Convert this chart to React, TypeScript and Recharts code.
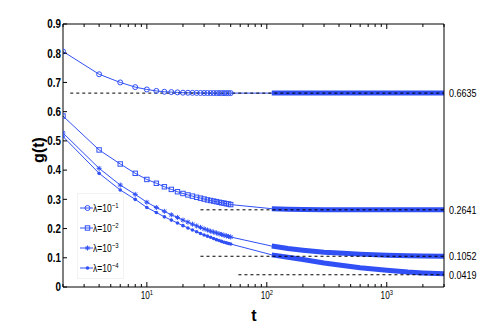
import { LineChart, Line, XAxis, YAxis, ReferenceLine, Legend } from 'recharts';

const FONT = "'Liberation Sans', Arial, sans-serif";
const BLUE = '#3050f5';

// sampled times: t = 2..50 (markers), then the dense tail from ~110 to 3000
const sparseT = [2, 4, 6, 8, 10, 12, 14, 16, 18, 20, 22, 24, 26, 28, 30, 32, 34, 36, 38, 40, 42, 44, 46, 48, 50];
const tailT = [110, 150, 200, 300, 400, 600, 1000, 1500, 2000, 3000];

// lambda = 1e-1
const lam1 = [0.806, 0.728, 0.7, 0.684, 0.676, 0.671, 0.668, 0.667, 0.666, 0.665, 0.6647, 0.6644, 0.6642, 0.664, 0.6639, 0.6638, 0.6637, 0.6637, 0.6636, 0.6636, 0.6636, 0.6635, 0.6635, 0.6635, 0.6635];
const lam1Tail = [0.6635, 0.6635, 0.6635, 0.6635, 0.6635, 0.6635, 0.6635, 0.6635, 0.6635, 0.6635];
// lambda = 1e-2
const lam2 = [0.585, 0.469, 0.421, 0.389, 0.368, 0.355, 0.343, 0.334, 0.326, 0.32, 0.315, 0.311, 0.307, 0.304, 0.301, 0.298, 0.296, 0.294, 0.292, 0.29, 0.288, 0.287, 0.285, 0.284, 0.282];
const lam2Tail = [0.268, 0.266, 0.265, 0.2645, 0.2643, 0.2642, 0.2641, 0.2641, 0.2641, 0.2641];
// lambda = 1e-3
const lam3 = [0.527, 0.406, 0.349, 0.317, 0.29, 0.272, 0.259, 0.247, 0.238, 0.229, 0.222, 0.215, 0.209, 0.204, 0.199, 0.195, 0.191, 0.188, 0.185, 0.182, 0.18, 0.177, 0.175, 0.173, 0.171];
const lam3Tail = [0.14, 0.132, 0.126, 0.119, 0.116, 0.1125, 0.109, 0.107, 0.106, 0.1052];
// lambda = 1e-4
const lam4 = [0.515, 0.389, 0.332, 0.3, 0.272, 0.255, 0.24, 0.229, 0.219, 0.21, 0.202, 0.195, 0.189, 0.183, 0.178, 0.174, 0.17, 0.166, 0.162, 0.159, 0.156, 0.153, 0.151, 0.149, 0.147];
const lam4Tail = [0.11, 0.102, 0.094, 0.082, 0.075, 0.066, 0.057, 0.051, 0.048, 0.045];

const legendExp = ['\u22121', '\u22122', '\u22123', '\u22124'];
const markers = ['circle', 'square', 'star', 'dot'];

// dashed asymptotes and where they start
const limitValues = [0.6635, 0.2641, 0.1052, 0.0419];
const limitStarts = [2.3, 28, 28, 58];

const xTicks = [2, 3, 4, 5, 6, 7, 8, 9, 10, 20, 30, 40, 50, 60, 70, 80, 90, 100, 200, 300, 400, 500, 600, 700, 800, 900, 1000, 2000, 3000];
const yTicks = [0, 0.1, 0.2, 0.3, 0.4, 0.5, 0.6, 0.7, 0.8, 0.9];

const sparse = [lam1, lam2, lam3, lam4];
const tails = [lam1Tail, lam2Tail, lam3Tail, lam4Tail];

const rows = [
    ...sparseT.map((t, i) => ({ t, s1: lam1[i], s2: lam2[i], s3: lam3[i], s4: lam4[i] })),
    ...tailT.map((t, i) => ({
        t,
        s1: lam1Tail[i], s2: lam2Tail[i], s3: lam3Tail[i], s4: lam4Tail[i],
        b1: lam1Tail[i], b2: lam2Tail[i], b3: lam3Tail[i], b4: lam4Tail[i],
    })),
];

// condensed text, like the narrow Helvetica of the original figure
function NText({ x, y, anchor = 'start', size = 11, bold = false, children }: any) {
    return (
        <text
            transform={`translate(${x} ${y}) scale(0.82 1)`} x={0} y={0}
            textAnchor={anchor} fontSize={size} fontWeight={bold ? 'bold' : 'normal'}
            fontFamily={FONT} fill="#000"
        >
            {children}
        </text>
    );
}

function Marker({ shape, cx, cy }: { shape: string; cx: number; cy: number }) {
    if (shape === 'circle') {
        return <circle cx={cx} cy={cy} r={2.5} fill="none" stroke={BLUE} strokeWidth={1} />;
    }
    if (shape === 'square') {
        return <rect x={cx - 2.2} y={cy - 2.2} width={4.4} height={4.4} fill="none" stroke={BLUE} strokeWidth={1} />;
    }
    if (shape === 'star') {
        return (
            <g stroke={BLUE} strokeWidth={1}>
                <line x1={cx - 2.5} x2={cx + 2.5} y1={cy} y2={cy} />
                <line x1={cx} x2={cx} y1={cy - 2.5} y2={cy + 2.5} />
                <line x1={cx - 1.8} x2={cx + 1.8} y1={cy - 1.8} y2={cy + 1.8} />
                <line x1={cx - 1.8} x2={cx + 1.8} y1={cy + 1.8} y2={cy - 1.8} />
            </g>
        );
    }
    return <circle cx={cx} cy={cy} r={1.8} fill={BLUE} />;
}

const makeDot = (shape: string) => (props: any) => {
    const { cx, cy, payload, index } = props;
    if (cx == null || cy == null || payload.t > 50) return <g key={index} />;
    return <g key={index}><Marker shape={shape} cx={cx} cy={cy} /></g>;
};

const isMajor = (v: number) => v === 10 || v === 100 || v === 1000;

function BottomTick(props: any) {
    const { x, y, payload } = props;
    const v = payload.value;
    const len = isMajor(v) ? 5 : 3;
    return (
        <g>
            <line x1={x} x2={x} y1={y} y2={y - len} stroke="#000" />
            {isMajor(v) && (
                <NText x={x} y={y + 12} anchor="middle" size={10}>
                    10<tspan dy={-4} fontSize={7}>{Math.round(Math.log10(v))}</tspan>
                </NText>
            )}
        </g>
    );
}

function TopTick(props: any) {
    const { x, y, payload } = props;
    const len = isMajor(payload.value) ? 5 : 3;
    return <line x1={x} x2={x} y1={y} y2={y + len} stroke="#000" />;
}

function LeftTick(props: any) {
    const { x, y, payload } = props;
    const v = payload.value;
    return (
        <g>
            <line x1={x} x2={x + 4} y1={y} y2={y} stroke="#000" />
            <NText x={x - 2} y={y + 4.3} anchor="end" size={12} bold>
                {v === 0 ? '0' : v.toFixed(1)}
            </NText>
        </g>
    );
}

function RightTick(props: any) {
    const { x, y } = props;
    return <line x1={x} x2={x - 4} y1={y} y2={y} stroke="#000" />;
}

const limitLabel = (text: string) => (props: any) => {
    const vb = props.viewBox || {};
    return <NText x={(vb.x ?? 0) + (vb.width ?? 0) + 5} y={(vb.y ?? 0) + 4}>{text}</NText>;
};

function LegendBox() {
    return (
        <div style={{ border: '1px solid #f2f2f2', background: '#fff', boxSizing: 'border-box', width: 47, height: 86, paddingTop: 4, fontFamily: FONT }}>
            {legendExp.map((e, i) => (
                <div key={i} style={{ display: 'flex', alignItems: 'center', height: 20 }}>
                    <svg width={17} height={10} style={{ marginLeft: 2 }}>
                        <line x1={0} x2={15} y1={5} y2={5} stroke={BLUE} strokeWidth={1} />
                        <Marker shape={markers[i]} cx={7.5} cy={5} />
                    </svg>
                    <span style={{ fontSize: 10, color: '#000', whiteSpace: 'nowrap', display: 'inline-block', transform: 'scaleX(0.85)', transformOrigin: 'left center' }}>
                        {'\u03bb=10'}<sup style={{ fontSize: 7, verticalAlign: 4 }}>{e}</sup>
                    </span>
                </div>
            ))}
        </div>
    );
}

export default function App() {
    return (
        <div style={{ position: 'absolute', left: 0, top: 0, width: 491, height: 327, background: '#fff' }}>
            <LineChart width={491} height={327} data={rows} margin={{ top: 0, right: 0, bottom: 0, left: 0 }}>
                <XAxis
                    dataKey="t" type="number" scale="log" domain={[2, 3000]} allowDataOverflow
                    ticks={xTicks} interval={0} height={40} tickSize={0} tickMargin={0}
                    tickLine={false} tick={<BottomTick />} axisLine={{ stroke: '#000' }}
                    label={() => (
                        <text x={254} y={321} textAnchor="middle" fontSize={16} fontWeight="bold" fontFamily={FONT} fill="#000">t</text>
                    )}
                />
                <XAxis
                    xAxisId="top" orientation="top" dataKey="t" type="number" scale="log" domain={[2, 3000]} allowDataOverflow
                    ticks={xTicks} interval={0} height={24} tickSize={0} tickMargin={0}
                    tickLine={false} tick={<TopTick />} axisLine={{ stroke: '#000' }}
                />
                <YAxis
                    domain={[0, 0.9]} ticks={yTicks} interval={0} width={63} tickSize={0} tickMargin={0}
                    tickLine={false} tick={<LeftTick />} axisLine={{ stroke: '#000' }}
                    label={() => (
                        <text x={44} y={150} transform="rotate(-90 44 150)" textAnchor="middle" fontSize={16} fontWeight="bold" fontFamily={FONT} fill="#000">g(t)</text>
                    )}
                />
                <YAxis
                    yAxisId="r" orientation="right" domain={[0, 0.9]} ticks={yTicks} interval={0} width={47}
                    tickSize={0} tickMargin={0} tickLine={false} tick={<RightTick />} axisLine={{ stroke: '#000' }}
                />
                {sparse.map((_, i) => (
                    <Line
                        key={'s' + i} dataKey={'s' + (i + 1)} stroke={BLUE} strokeWidth={1}
                        dot={makeDot(markers[i])} activeDot={false} isAnimationActive={false}
                    />
                ))}
                {tails.map((_, i) => (
                    <Line
                        key={'b' + i} dataKey={'b' + (i + 1)} stroke={BLUE} strokeWidth={5}
                        dot={false} activeDot={false} isAnimationActive={false} legendType="none"
                    />
                ))}
                {limitValues.map((v, i) => (
                    <ReferenceLine
                        key={'r' + i}
                        segment={[{ x: limitStarts[i], y: v }, { x: 3000, y: v }]}
                        stroke="#000" strokeDasharray="3 3" strokeWidth={1}
                        label={limitLabel(v.toFixed(4))}
                    />
                ))}
                <Legend
                    layout="vertical" align="center" verticalAlign="middle"
                    content={<LegendBox />}
                    wrapperStyle={{ position: 'absolute', left: 77, top: 193, width: 47, height: 86 }}
                />
            </LineChart>
        </div>
    );
}
